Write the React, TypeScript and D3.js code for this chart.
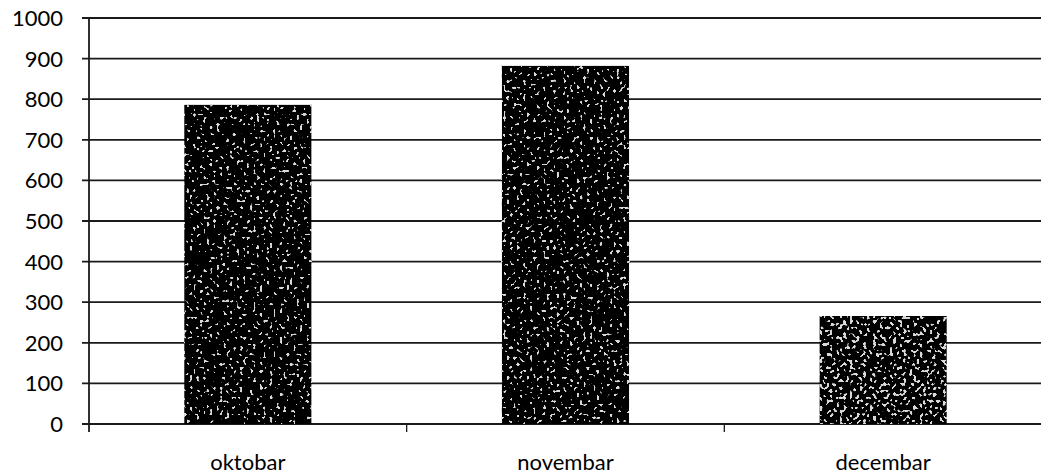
import React from "react";
import * as d3 from "d3";

const categories = ["oktobar", "novembar", "decembar"];
const values = [786, 882, 266];
const yTicks = [0, 100, 200, 300, 400, 500, 600, 700, 800, 900, 1000];
const speckleThresholds = [16.4, 16.4, 15.0];

export default function App() {
  const W = 1041, H = 475;
  const left = 89, right = 1042, top = 18, bottom = 424;
  const y = d3.scaleLinear().domain([0, 1000]).range([bottom, top]);
  const x = d3.scaleBand().domain(categories).range([left, right]).paddingInner(0.6).paddingOuter(0.3);
  const band = d3.scaleBand().domain(categories).range([left, right]);
  const font = "Lato, 'Open Sans', sans-serif";
  return (
    <svg width={W} height={H} style={{ position: "absolute", left: 0, top: 0, background: "#fff" }}>
      <defs>
        {categories.map((c, i) => (
          <filter key={c} id={`speck${i}`} x="0" y="0" width="1" height="1" filterUnits="objectBoundingBox" colorInterpolationFilters="sRGB">
            <feTurbulence type="fractalNoise" baseFrequency="0.3" numOctaves={1} seed={i * 7 + 3} result="noise" />
            <feColorMatrix in="noise" type="matrix" values={`0 0 0 0 0.85  0 0 0 0 0.85  0 0 0 0 0.85  26 0 0 0 -${speckleThresholds[i]}`} result="specks" />
            <feMerge>
              <feMergeNode in="SourceGraphic" />
              <feMergeNode in="specks" />
            </feMerge>
          </filter>
        ))}
      </defs>
      {yTicks.map((t) => (
        <g key={t}>
          <line x1={82} x2={W} y1={y(t)} y2={y(t)} stroke="#1a1a1a" strokeWidth={1.8} />
          <text x={63} y={y(t)} dy="0.36em" textAnchor="end" fontFamily={font} fontSize={22} fill="#000">{t}</text>
        </g>
      ))}
      <line x1={left} x2={left} y1={top} y2={bottom + 8} stroke="#1a1a1a" strokeWidth={1.8} />
      {categories.slice(1).map((c) => (
        <line key={c} x1={band(c)!} x2={band(c)!} y1={bottom} y2={bottom + 8} stroke="#1a1a1a" strokeWidth={1.3} />
      ))}
      {categories.map((c, i) => (
        <rect key={c} x={x(c)!} y={y(values[i])} width={x.bandwidth()} height={bottom - y(values[i])} fill="#000" filter={`url(#speck${i})`} />
      ))}
      {categories.map((c) => (
        <text key={c} x={x(c)! + x.bandwidth() / 2} y={470} textAnchor="middle" fontFamily={font} fontSize={22} fill="#000">{c}</text>
      ))}
    </svg>
  );
}
